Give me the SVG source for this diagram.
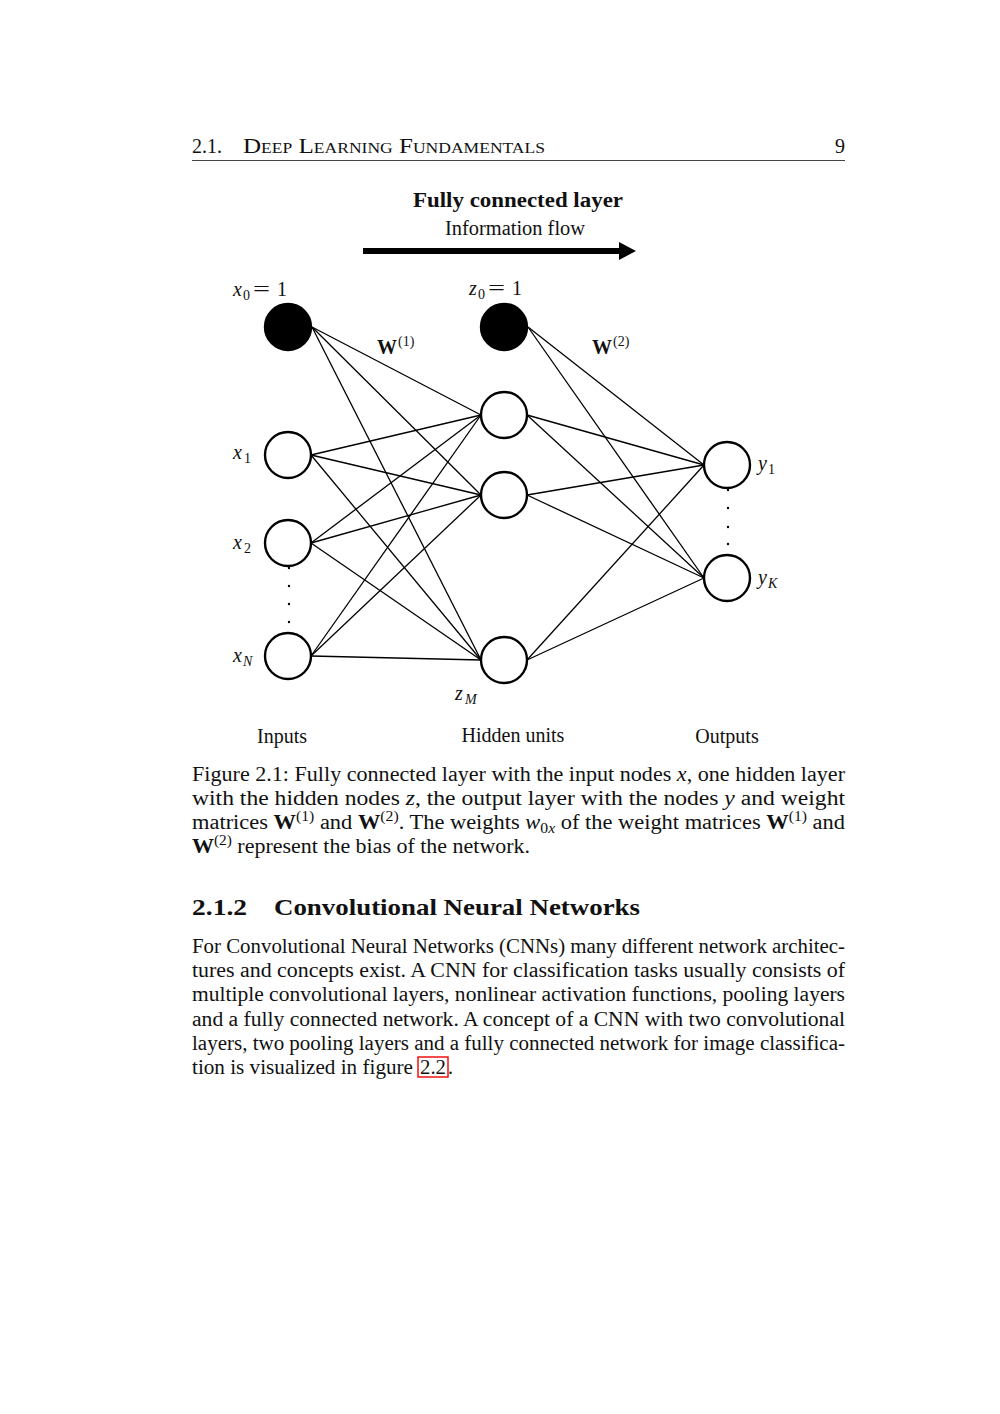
<svg xmlns="http://www.w3.org/2000/svg" width="1000" height="1414" viewBox="0 0 1000 1414">
<style>
text{font-family:"Liberation Serif","DejaVu Serif",serif;font-size:20px;fill:#111}
.it{font-style:italic}
.bf{font-weight:bold}
.sub{font-size:14px}
.sc{font-variant:small-caps}
.node{fill:#fff;stroke:#000;stroke-width:2.4}
.bias{fill:#000;stroke:#000;stroke-width:2.4}
.edge{stroke:#000;stroke-width:1.3;fill:none}
.dot{fill:#000}
</style>
<rect width="1000" height="1414" fill="#fff"/>

<!-- running header -->
<g id="header">
<text x="192" y="153">2.1.</text>
<text x="243" y="153" class="sc" textLength="302" lengthAdjust="spacingAndGlyphs">Deep Learning Fundamentals</text>
<text x="845" y="153" text-anchor="end">9</text>
<line x1="192" y1="160.5" x2="845" y2="160.5" stroke="#444" stroke-width="1"/>
</g>

<!-- title -->
<g id="title">
<text x="413" y="207" class="bf" textLength="210" lengthAdjust="spacingAndGlyphs">Fully connected layer</text>
<text x="445" y="235" textLength="140" lengthAdjust="spacingAndGlyphs">Information flow</text>
<line x1="363" y1="251" x2="620" y2="251" stroke="#000" stroke-width="6"/>
<path d="M619,242 L636,251 L619,260 Z" fill="#000"/>
</g>

<!-- connectors -->
<g id="connectors" class="edge">
<line class="edge" x1="312" y1="327" x2="481" y2="415"/>
<line class="edge" x1="312" y1="327" x2="481" y2="495"/>
<line class="edge" x1="312" y1="327" x2="481" y2="660"/>
<line class="edge" x1="311" y1="455" x2="481" y2="415"/>
<line class="edge" x1="311" y1="455" x2="481" y2="495"/>
<line class="edge" x1="311" y1="455" x2="481" y2="660"/>
<line class="edge" x1="311" y1="543" x2="481" y2="415"/>
<line class="edge" x1="311" y1="543" x2="481" y2="495"/>
<line class="edge" x1="311" y1="543" x2="481" y2="660"/>
<line class="edge" x1="311" y1="656" x2="481" y2="415"/>
<line class="edge" x1="311" y1="656" x2="481" y2="495"/>
<line class="edge" x1="311" y1="656" x2="481" y2="660"/>
<line class="edge" x1="528" y1="327" x2="704" y2="465"/>
<line class="edge" x1="528" y1="327" x2="704" y2="578"/>
<line class="edge" x1="527" y1="415" x2="704" y2="465"/>
<line class="edge" x1="527" y1="415" x2="704" y2="578"/>
<line class="edge" x1="527" y1="495" x2="704" y2="465"/>
<line class="edge" x1="527" y1="495" x2="704" y2="578"/>
<line class="edge" x1="527" y1="660" x2="704" y2="465"/>
<line class="edge" x1="527" y1="660" x2="704" y2="578"/>
</g>

<!-- input layer -->
<g id="node-x0">
<circle class="bias" cx="288" cy="327" r="23"/>
<text x="233" y="296" class="it">x</text><text x="243" y="300" class="sub">0</text><text x="253" y="296" textLength="17" lengthAdjust="spacingAndGlyphs">=</text><text x="277" y="296">1</text>
</g>
<g id="node-x1">
<circle class="node" cx="288" cy="455" r="23"/>
<text x="233" y="459" class="it">x</text><text x="244" y="463" class="sub">1</text>
</g>
<g id="node-x2">
<circle class="node" cx="288" cy="543" r="23"/>
<text x="233" y="549" class="it">x</text><text x="244" y="553" class="sub">2</text>
</g>
<g id="dots-x">
<circle class="dot" cx="289" cy="568" r="1.2"/>
<circle class="dot" cx="289" cy="586" r="1.2"/>
<circle class="dot" cx="289" cy="604" r="1.2"/>
<circle class="dot" cx="289" cy="622" r="1.2"/>
</g>
<g id="node-xN">
<circle class="node" cx="288" cy="656" r="23"/>
<text x="233" y="662" class="it">x</text><text x="243" y="666" class="sub it">N</text>
</g>

<!-- hidden layer -->
<g id="node-z0">
<circle class="bias" cx="504" cy="327" r="23"/>
<text x="469" y="295" class="it">z</text><text x="478" y="299" class="sub">0</text><text x="488" y="295" textLength="17" lengthAdjust="spacingAndGlyphs">=</text><text x="512" y="295">1</text>
</g>
<g id="node-z1"><circle class="node" cx="504" cy="415" r="23"/></g>
<g id="node-z2"><circle class="node" cx="504" cy="495" r="23"/></g>
<g id="node-zM">
<circle class="node" cx="504" cy="660" r="23"/>
<text x="455" y="700" class="it">z</text><text x="465" y="704" class="sub it">M</text>
</g>

<!-- output layer -->
<g id="node-y1">
<circle class="node" cx="727" cy="465" r="23"/>
<text x="758" y="470" class="it">y</text><text x="768" y="474" class="sub">1</text>
</g>
<g id="dots-y">
<circle class="dot" cx="728" cy="490" r="1.2"/>
<circle class="dot" cx="728" cy="508" r="1.2"/>
<circle class="dot" cx="728" cy="527" r="1.2"/>
<circle class="dot" cx="728" cy="544" r="1.2"/>
</g>
<g id="node-yK">
<circle class="node" cx="727" cy="578" r="23"/>
<text x="758" y="584" class="it">y</text><text x="768" y="588" class="sub it">K</text>
</g>

<!-- weight labels -->
<g id="label-W1">
<text x="377" y="354" class="bf">W</text><text x="398" y="346" class="sub">(1)</text>
</g>
<g id="label-W2">
<text x="592" y="354" class="bf">W</text><text x="613" y="346" class="sub">(2)</text>
</g>

<!-- layer labels -->
<g id="layer-labels">
<text x="282" y="743" text-anchor="middle">Inputs</text>
<text x="513" y="742" text-anchor="middle">Hidden units</text>
<text x="727" y="743" text-anchor="middle">Outputs</text>
</g>

<!-- caption -->
<g id="caption">
<text x="192" y="781" textLength="653" lengthAdjust="spacingAndGlyphs">Figure 2.1: Fully connected layer with the input nodes <tspan class="it">x</tspan>, one hidden layer</text>
<text x="192" y="805" textLength="653" lengthAdjust="spacingAndGlyphs">with the hidden nodes <tspan class="it">z</tspan>, the output layer with the nodes <tspan class="it">y</tspan> and weight</text>
<text x="192" y="829" textLength="653" lengthAdjust="spacingAndGlyphs">matrices <tspan class="bf">W</tspan><tspan class="sub" dy="-8">(1)</tspan><tspan dy="8"> and </tspan><tspan class="bf">W</tspan><tspan class="sub" dy="-8">(2)</tspan><tspan dy="8">. The weights </tspan><tspan class="it">w</tspan><tspan class="sub" dy="4">0</tspan><tspan class="sub it">x</tspan><tspan dy="-4"> of the weight matrices </tspan><tspan class="bf">W</tspan><tspan class="sub" dy="-8">(1)</tspan><tspan dy="8"> and</tspan></text>
<text x="192" y="853" textLength="338" lengthAdjust="spacingAndGlyphs"><tspan class="bf">W</tspan><tspan class="sub" dy="-8">(2)</tspan><tspan dy="8"> represent the bias of the network.</tspan></text>
</g>

<!-- section -->
<g id="section">
<text x="192" y="915" class="bf" style="font-size:24px" textLength="55" lengthAdjust="spacingAndGlyphs">2.1.2</text>
<text x="274" y="915" class="bf" style="font-size:24px" textLength="366" lengthAdjust="spacingAndGlyphs">Convolutional Neural Networks</text>
<text x="192" y="953" textLength="653" lengthAdjust="spacingAndGlyphs">For Convolutional Neural Networks (CNNs) many different network architec-</text>
<text x="192" y="977" textLength="653" lengthAdjust="spacingAndGlyphs">tures and concepts exist.  A CNN for classification tasks usually consists of</text>
<text x="192" y="1001" textLength="653" lengthAdjust="spacingAndGlyphs">multiple convolutional layers, nonlinear activation functions, pooling layers</text>
<text x="192" y="1026" textLength="653" lengthAdjust="spacingAndGlyphs">and a fully connected network. A concept of a CNN with two convolutional</text>
<text x="192" y="1050" textLength="653" lengthAdjust="spacingAndGlyphs">layers, two pooling layers and a fully connected network for image classifica-</text>
<text x="192" y="1074" textLength="221" lengthAdjust="spacingAndGlyphs">tion is visualized in figure</text>
<text x="420" y="1074" textLength="26" lengthAdjust="spacingAndGlyphs">2.2</text><text x="448" y="1074">.</text>
<rect x="418" y="1057" width="30" height="20" fill="none" stroke="#e00" stroke-width="1.4"/>
</g>
</svg>
